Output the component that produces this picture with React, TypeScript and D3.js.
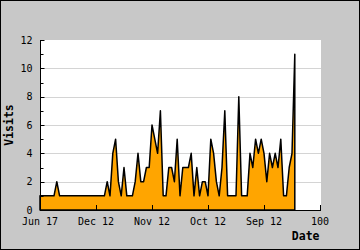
import React from "react";
import * as d3 from "d3";

const visits: number[] = [
  1, 1, 1, 1, 1, 1, 2, 1, 1, 1,
  1, 1, 1, 1, 1, 1, 1, 1, 1, 1,
  1, 1, 1, 1, 2, 1, 4, 5, 2, 1,
  3, 1, 1, 1, 2, 4, 2, 2, 3, 3,
  6, 5, 4, 7, 1, 1, 3, 3, 2, 5,
  1, 3, 3, 3, 4, 1, 3, 1, 2, 2,
  1, 5, 4, 2, 1, 3, 7, 1, 1, 1,
  1, 8, 1, 1, 1, 4, 3, 5, 4, 5,
  4, 2, 4, 3, 4, 3, 5, 1, 1, 3,
  4, 11,
];
const xTickValues: number[] = [0, 20, 40, 60, 80, 100];
const xTickLabels: string[] = ["Jun 17", "Dec 12", "Nov 12", "Oct 12", "Sep 12", "100"];
const yMajor: number[] = [0, 2, 4, 6, 8, 10, 12];
const yMinor: number[] = [1, 3, 5, 7, 9, 11];

const W = 360;
const H = 250;
const L = 40, R = 320, T = 40, B = 210;
const FONT = "'DejaVu Sans Mono', monospace";

export default function App() {
  const x = d3.scaleLinear().domain([0, 100]).range([L, R]);
  const y = d3.scaleLinear().domain([0, 12]).range([B, T]);
  const area = d3
    .area<number>()
    .x((_, i) => x(i))
    .y0(y(0))
    .y1((d) => y(d));
  return (
    <svg
      width={W}
      height={H}
      style={{ position: "absolute", left: 0, top: 0 }}
      xmlns="http://www.w3.org/2000/svg"
    >
      <rect x={0.5} y={0.5} width={W - 1} height={H - 1} fill="#c8c8c8" stroke="#000" strokeWidth={1} />
      <rect x={L} y={T} width={R - L + 1} height={B - T} fill="#fff" />
      {yMajor.filter((v) => v > 0 && v < 12).map((v) => (
        <line key={"g" + v} x1={L + 4} x2={R + 1} y1={Math.round(y(v)) + 0.5} y2={Math.round(y(v)) + 0.5} stroke="#d4d4d4" strokeWidth={1} />
      ))}
      <path d={area(visits) || ""} fill="#ffa500" stroke="#000" strokeWidth={1.5} strokeLinejoin="round" />
      <line x1={L + 0.5} x2={L + 0.5} y1={T} y2={B + 0.5} stroke="#000" strokeWidth={1} />
      <line x1={L} x2={R + 1} y1={B + 0.5} y2={B + 0.5} stroke="#000" strokeWidth={1} />
      {yMajor.map((v) => (
        <line key={"mt" + v} x1={L} x2={L + 4.5} y1={Math.round(y(v)) + 0.5} y2={Math.round(y(v)) + 0.5} stroke="#000" strokeWidth={1} />
      ))}
      {yMinor.map((v) => (
        <line key={"nt" + v} x1={L} x2={L + 3.5} y1={Math.round(y(v)) + 0.5} y2={Math.round(y(v)) + 0.5} stroke="#000" strokeWidth={1} />
      ))}
      {xTickValues.filter((v) => v > 0).map((v) => (
        <line key={"xt" + v} x1={Math.round(x(v)) + 0.5} x2={Math.round(x(v)) + 0.5} y1={B - 5} y2={B} stroke="#000" strokeWidth={1} />
      ))}
      {yMajor.map((v) => (
        <text key={"yl" + v} x={32.5} y={y(v)} dy="0.36em" textAnchor="end" fontFamily={FONT} fontSize={10} fill="#000">
          {v}
        </text>
      ))}
      {xTickValues.map((v, i) => (
        <text key={"xl" + v} x={x(v)} y={225} textAnchor="middle" fontFamily={FONT} fontSize={10} fill="#000">
          {xTickLabels[i]}
        </text>
      ))}
      <text x={319.5} y={240} textAnchor="end" fontFamily={FONT} fontSize={11.5} fontWeight="bold" fill="#000">
        Date
      </text>
      <text transform={`translate(13.3,${(T + B) / 2}) rotate(-90)`} textAnchor="middle" fontFamily={FONT} fontSize={11.5} fontWeight="bold" fill="#000">
        Visits
      </text>
    </svg>
  );
}
